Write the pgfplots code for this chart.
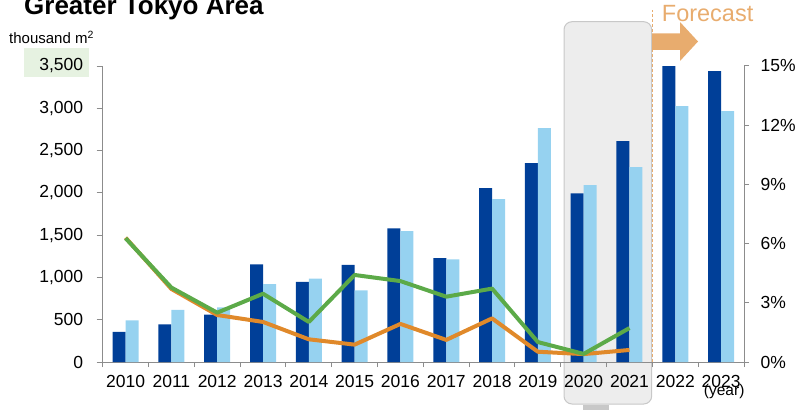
\documentclass[border=0pt]{standalone}
\usepackage{pgfplots}
\pgfplotsset{compat=1.18}
\usepackage{fontspec}
\setmainfont{Liberation Sans}
\definecolor{dkblue}{RGB}{0,63,152}
\definecolor{ltblue}{RGB}{150,210,240}
\definecolor{lgreen}{RGB}{92,170,72}
\definecolor{lorange}{RGB}{224,137,42}
\definecolor{fcast}{RGB}{232,172,110}
\definecolor{axgray}{RGB}{140,140,140}
\definecolor{panel}{RGB}{237,237,237}
\definecolor{panelb}{RGB}{200,200,200}
\definecolor{lbox}{RGB}{230,242,225}
\begin{document}
\begin{tikzpicture}
% background highlight panel
\filldraw[rounded corners=8pt, fill=panel, draw=panelb, line width=1pt] (461.3pt,-42pt) rectangle (549pt,340.3pt);
\fill[panelb] (480.3pt,-48pt) rectangle (506.3pt,-43pt);
\fill[lbox] (-78.7pt,285pt) rectangle (-13.7pt,314pt);
\begin{axis}[at={(0pt,0pt)}, anchor=south west, scale only axis,
  width=641.3pt, height=296pt,
  xmin=-0.5, xmax=13.5, ymin=0, ymax=3500,
  ybar=0pt, bar width=13pt,
  axis x line*=bottom, axis y line*=left,
  axis line style={axgray, line width=1pt},
  xtick={0,...,13},
  xticklabels={2010,2011,2012,2013,2014,2015,2016,2017,2018,2019,2020,2021,2022,2023},
  minor xtick={-0.5,0.5,...,13.5},
  major x tick style={draw=none},
  minor x tick style={axgray, line width=1pt},
  ytick={0,500,...,3500},
  yticklabels={0,500,{1,000},{1,500},{2,000},{2,500},{3,000},{3,500}},
  y tick style={axgray, line width=1pt},
  tick align=outside, major tick length=6pt, minor tick length=5pt,
  ticklabel style={font=\fontsize{17.5}{20}\selectfont, text=black},
  yticklabel style={xshift=-10pt},
  xticklabel style={yshift=-4pt},
  clip=false,
]
\addplot[fill=dkblue, draw=none] coordinates {(0,355) (1,445) (2,559) (3,1155) (4,946) (5,1147) (6,1580) (7,1229) (8,2057) (9,2352) (10,1994) (11,2612) (12,3500) (13,3440)};
\addplot[fill=ltblue, draw=none] coordinates {(0,493) (1,615) (2,646) (3,922) (4,985) (5,847) (6,1549) (7,1214) (8,1927) (9,2766) (10,2092) (11,2305) (12,3026) (13,2967)};
\end{axis}
\begin{axis}[at={(0pt,0pt)}, anchor=south west, scale only axis,
  width=641.3pt, height=296pt,
  xmin=-0.5, xmax=13.5, ymin=0, ymax=15,
  axis x line=none, axis y line*=right,
  axis line style={axgray, line width=1pt},
  ytick={0,3,...,15},
  yticklabels={0\%,3\%,6\%,9\%,12\%,15\%},
  y tick style={axgray, line width=1pt},
  tick align=outside, major tick length=5pt,
  ticklabel style={font=\fontsize{17.5}{20}\selectfont, text=black},
  yticklabel style={xshift=8pt},
  clip=false,
]
\addplot[lorange, line width=4pt, line join=round, mark=none] coordinates {(0,6.3) (1,3.7) (2,2.38) (3,2.03) (4,1.15) (5,0.88) (6,1.93) (7,1.12) (8,2.21) (9,0.52) (10,0.4) (11,0.61)};
\addplot[lgreen, line width=4pt, line join=round, mark=none] coordinates {(0,6.27) (1,3.77) (2,2.5) (3,3.46) (4,2.03) (5,4.41) (6,4.1) (7,3.31) (8,3.72) (9,1.01) (10,0.41) (11,1.72)};
\end{axis}
% forecast marker
\draw[fcast, line width=1pt, dash pattern=on 3pt off 2pt] (549.6pt,0pt) -- (549.6pt,352pt);
\fill[fcast] (549.3pt,312pt) -- (577.3pt,312pt) -- (577.3pt,301pt) -- (595.3pt,320.5pt) -- (577.3pt,340pt) -- (577.3pt,328.7pt) -- (549.3pt,328.7pt) -- cycle;
\node[anchor=base west, inner sep=0pt, text=fcast, font=\fontsize{23.5}{26}\selectfont] at (559pt,340pt) {Forecast};
\node[anchor=base west, inner sep=0pt, font=\bfseries\fontsize{26}{29}\selectfont] at (-78.7pt,347pt) {Greater Tokyo Area};
\node[anchor=base west, inner sep=0pt, font=\fontsize{15}{18}\selectfont] at (-93.7pt,318pt) {thousand m\textsuperscript{2}};
\node[anchor=base, inner sep=0pt, font=\fontsize{15.5}{18}\selectfont] at (621.5pt,-33pt) {(year)};
\pgfresetboundingbox
\useasboundingbox (-102.7pt,-48pt) rectangle (695.3pt,362pt);
\end{tikzpicture}
\end{document}
